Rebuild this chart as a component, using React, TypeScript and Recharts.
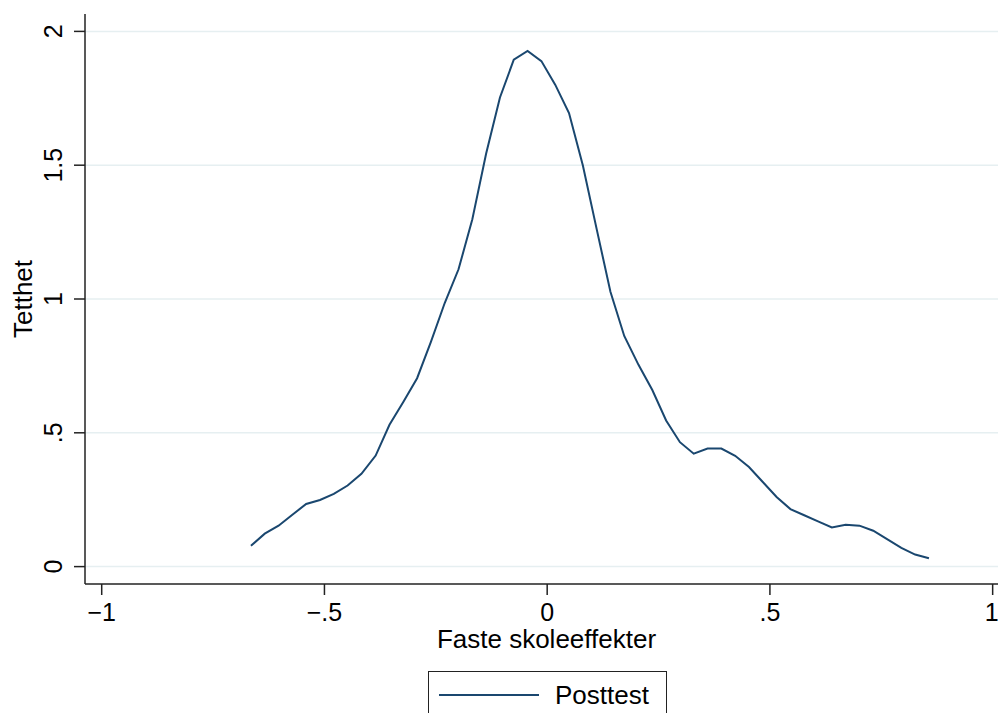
import React from "react";
import {
  LineChart,
  Line,
  XAxis,
  YAxis,
  CartesianGrid,
  Legend,
} from "recharts";

const FONT = "'Liberation Sans', Arial, Helvetica, sans-serif";
const NAVY = "#1a476f";

// kernel density estimate, 50 evaluation points
const xPoints = [
  -0.665, -0.634, -0.603, -0.572, -0.541, -0.51, -0.479, -0.448, -0.417, -0.385,
  -0.354, -0.323, -0.292, -0.261, -0.23, -0.199, -0.168, -0.137, -0.106, -0.075,
  -0.044, -0.013, 0.018, 0.049, 0.08, 0.111, 0.142, 0.173, 0.205, 0.236,
  0.267, 0.298, 0.329, 0.36, 0.391, 0.422, 0.453, 0.484, 0.515, 0.546,
  0.577, 0.608, 0.639, 0.67, 0.701, 0.732, 0.763, 0.795, 0.826, 0.857,
];

const density = [
  0.078, 0.123, 0.153, 0.194, 0.234, 0.249, 0.272, 0.303, 0.347, 0.415,
  0.53, 0.615, 0.704, 0.84, 0.985, 1.111, 1.298, 1.544, 1.753, 1.894,
  1.927, 1.889, 1.801, 1.695, 1.5, 1.262, 1.027, 0.862, 0.754, 0.66,
  0.546, 0.465, 0.422, 0.441, 0.441, 0.414, 0.372, 0.316, 0.26, 0.215,
  0.192, 0.169, 0.146, 0.156, 0.153, 0.134, 0.103, 0.07, 0.045, 0.031,
];

const xTicks = [-1, -0.5, 0, 0.5, 1];
const yTicks = [0, 0.5, 1, 1.5, 2];

const seriesName = "Posttest";
const xTitle = "Faste skoleeffekter";
const yTitle = "Tetthet";

const data = xPoints.map((x, i) => ({ x, y: density[i] }));

// stata style: drop the leading zero, real minus sign
const fmt = (v: number) => {
  if (v === 0) return "0";
  const s = Math.abs(v).toString().replace(/^0\./, ".");
  return v < 0 ? "\u2212" + s : s;
};

const YTick = (props: any) => {
  const { x, y, payload } = props;
  return (
    <text
      x={x}
      y={y}
      transform={`rotate(-90 ${x} ${y})`}
      textAnchor="middle"
      fontSize={25}
      fontFamily={FONT}
      fill="#000"
    >
      {fmt(payload.value)}
    </text>
  );
};

const XTitle = (props: any) => {
  const { viewBox } = props;
  return (
    <text
      x={viewBox.x + viewBox.width / 2 + 5}
      y={viewBox.y + 64}
      textAnchor="middle"
      fontSize={26}
      fontFamily={FONT}
      fill="#000"
    >
      {xTitle}
    </text>
  );
};

const YTitle = (props: any) => {
  const { viewBox } = props;
  const cx = 32;
  const cy = viewBox.y + viewBox.height / 2;
  return (
    <text
      x={cx}
      y={cy}
      transform={`rotate(-90 ${cx} ${cy})`}
      textAnchor="middle"
      fontSize={26}
      fontFamily={FONT}
      fill="#000"
    >
      {yTitle}
    </text>
  );
};

const LegendBox = (props: any) => {
  const items = props.payload || [];
  return (
    <div
      style={{
        border: "1.5px solid #222",
        height: 48,
        boxSizing: "border-box",
        display: "flex",
        alignItems: "center",
        fontFamily: FONT,
        fontSize: 26,
        background: "#fff",
      }}
    >
      {items.map((it: any) => (
        <div key={it.value} style={{ display: "flex", alignItems: "center" }}>
          <svg width={112} height={10} style={{ marginLeft: 10 }}>
            <line x1={0} x2={100} y1={5} y2={5} stroke={it.color} strokeWidth={2} />
          </svg>
          <span style={{ marginLeft: 4 }}>{it.value}</span>
        </div>
      ))}
    </div>
  );
};

export default function App() {
  return (
    <div
      style={{
        position: "absolute",
        left: 0,
        top: 0,
        width: 998,
        height: 713,
        overflow: "hidden",
        background: "#fff",
      }}
    >
      <LineChart
        width={998}
        height={713}
        data={data}
        margin={{ top: 14, right: 0, bottom: 0, left: 0 }}
        style={{ fontFamily: FONT }}
      >
        <CartesianGrid
          vertical={false}
          stroke="#e6eff1"
          strokeWidth={1.5}
          horizontalValues={yTicks}
        />
        <XAxis
          type="number"
          dataKey="x"
          domain={[-1.0375, 1.012]}
          allowDataOverflow
          ticks={xTicks}
          tickFormatter={fmt}
          tickSize={11}
          tickMargin={8}
          height={129}
          axisLine={{ stroke: "#222", strokeWidth: 1.5 }}
          tickLine={{ stroke: "#222", strokeWidth: 1.5 }}
          tick={{ fontSize: 25, fill: "#000", fontFamily: FONT }}
          label={{ content: XTitle }}
        />
        <YAxis
          type="number"
          domain={[-0.065, 2.065]}
          allowDataOverflow
          ticks={yTicks}
          tickSize={11}
          tickMargin={12}
          width={85}
          axisLine={{ stroke: "#222", strokeWidth: 1.5 }}
          tickLine={{ stroke: "#222", strokeWidth: 1.5 }}
          tick={<YTick />}
          label={{ content: YTitle }}
        />
        <Line
          type="linear"
          dataKey="y"
          name={seriesName}
          stroke={NAVY}
          strokeWidth={2}
          dot={false}
          activeDot={false}
          isAnimationActive={false}
        />
        <Legend
          layout="horizontal"
          verticalAlign="middle"
          align="center"
          wrapperStyle={{ left: 428, top: 671, width: 239 }}
          content={<LegendBox />}
        />
      </LineChart>
    </div>
  );
}
